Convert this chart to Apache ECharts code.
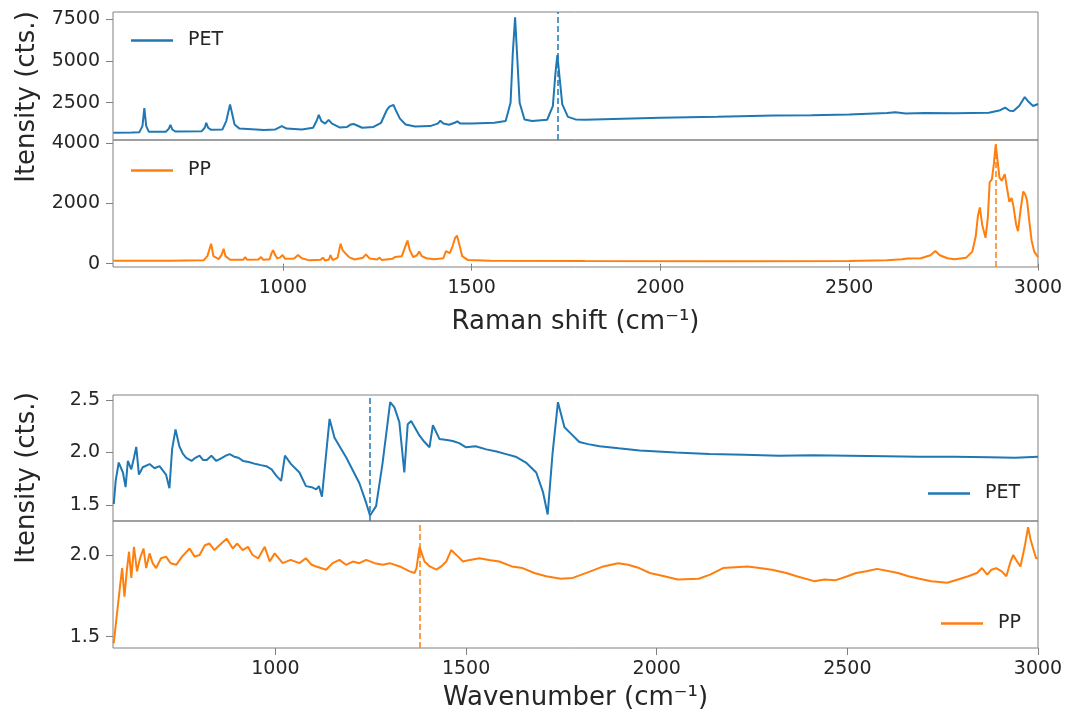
<!DOCTYPE html>
<html>
<head>
<meta charset="utf-8">
<title>Raman / FTIR spectra</title>
<script src="https://cdn.jsdelivr.net/npm/echarts@6.0.0/dist/echarts.min.js"></script>
<style>
  html, body { margin: 0; padding: 0; background: #fff; }
  #main { width: 1067px; height: 715px; }
</style>
</head>
<body>
<div id="main"></div>
<script>
// ---- Raman, PET ----
const ramanPetX = [551, 600, 620, 628, 633, 638, 645, 690, 698, 702, 707, 715, 785, 793, 797, 802, 810, 840, 850, 857, 860, 864, 872, 885,
  950, 980, 997, 1010, 1050, 1080, 1090, 1095, 1102, 1112, 1121, 1130, 1150, 1170, 1180, 1187, 1195, 1210, 1240, 1260, 1275, 1282, 1287,
  1293, 1300, 1310, 1325, 1350, 1390, 1410, 1417, 1425, 1440, 1455, 1462, 1470, 1500, 1560, 1590, 1603, 1609, 1615, 1620, 1627, 1640,
  1660, 1700, 1715, 1722, 1727, 1732, 1740, 1755, 1775, 1800, 1900, 2000, 2150, 2300, 2400, 2500, 2600, 2622, 2650, 2700, 2780, 2870,
  2900, 2913, 2925, 2935, 2950, 2965, 2975, 2987, 3000];
const ramanPetY = [700, 720, 740, 1100, 2170, 1100, 760, 760, 950, 1170, 900, 780, 800, 1000, 1300, 1000, 880, 900, 1400, 2100, 2400, 2000, 1200, 950,
  870, 900, 1100, 950, 900, 1000, 1450, 1770, 1400, 1250, 1470, 1250, 1020, 1050, 1200, 1230, 1150, 1000, 1050, 1300, 2050, 2260, 2250,
  2370, 2000, 1550, 1200, 1080, 1100, 1250, 1420, 1250, 1180, 1300, 1380, 1250, 1250, 1300, 1400, 2500, 5500, 7600, 5500, 2500, 1500,
  1400, 1480, 2300, 4300, 5350, 4200, 2400, 1650, 1500, 1480, 1540, 1600, 1660, 1730, 1750, 1800, 1880, 1926, 1860, 1880, 1870, 1900,
  2050, 2200, 2020, 2000, 2300, 2840, 2550, 2300, 2420];

// ---- Raman, PP ----
const ramanPpX = [551, 700, 790, 800, 810, 816, 830, 838, 843, 848, 860, 895, 900, 905, 935, 942, 948, 965, 970, 974, 979, 985, 992, 999,
  1006, 1030, 1040, 1050, 1070, 1100, 1106, 1112, 1122, 1126, 1132, 1145, 1150, 1153, 1158, 1165, 1168, 1175, 1190, 1212, 1220, 1230,
  1250, 1256, 1262, 1290, 1297, 1315, 1325, 1330, 1336, 1345, 1355, 1361, 1368, 1380, 1400, 1425, 1432, 1436, 1442, 1450, 1456, 1461,
  1467, 1475, 1490, 1550, 1800, 2200, 2500, 2600, 2640, 2654, 2690, 2715, 2728, 2740, 2760, 2779, 2810, 2826, 2835, 2841, 2846, 2852,
  2861, 2867, 2872, 2878, 2883, 2888, 2893, 2898, 2904, 2912, 2918, 2924, 2930, 2935, 2942, 2947, 2954, 2961, 2966, 2971, 2977, 2983,
  2990, 3000];
const ramanPpY = [100, 95, 110, 250, 660, 250, 150, 300, 494, 250, 130, 130, 218, 130, 140, 218, 130, 150, 350, 450, 300, 180, 200, 285,
  160, 170, 285, 180, 110, 130, 200, 100, 140, 285, 120, 200, 500, 659, 450, 350, 395, 220, 140, 200, 307, 170,
  140, 200, 120, 160, 220, 250, 600, 768, 450, 220, 280, 406, 250, 180, 150, 180, 420, 482, 350, 600, 850, 933,
  650, 250, 120, 100, 90, 80, 90, 110, 150, 175, 180, 280, 417, 280, 180, 150, 200, 400, 900, 1600, 1867, 1300,
  857, 1500, 2700, 2800, 3300, 3950, 3400, 2850, 2750, 2970, 2500, 2050, 2176, 1900, 1300, 1075, 1800, 2394, 2300, 2100, 1400, 769,
  400, 218];

// ---- FTIR, PET ----
const ftirPetX = [576, 581, 589, 600, 607, 613, 622, 629, 635, 642, 652, 670, 683, 696, 713, 722, 729, 738, 748, 757, 766, 780, 790, 801,
  810, 820, 832, 845, 860, 870, 880, 892, 903, 915, 930, 949, 962, 976, 990, 1002, 1015, 1025, 1041, 1063, 1080, 1095, 1107, 1114, 1122,
  1142, 1155, 1186, 1220, 1238, 1248, 1264, 1281, 1301, 1312, 1325, 1338, 1347, 1356, 1378, 1391, 1404, 1413, 1430, 1450, 1465, 1482,
  1500, 1525, 1553, 1580, 1605, 1630, 1657, 1684, 1702, 1714, 1727, 1741, 1758, 1775, 1797, 1820, 1850, 1900, 1955, 2050, 2138, 2230,
  2321, 2410, 2505, 2600, 2689, 2780, 2872, 2940, 3000];
const ftirPetY = [1.51, 1.73, 1.905, 1.81, 1.67, 1.92, 1.84, 1.95, 2.054, 1.79, 1.86, 1.89, 1.85, 1.87, 1.79, 1.66, 2.03, 2.22, 2.06, 1.99, 1.95, 1.92, 1.95, 1.97,
  1.93, 1.93, 1.97, 1.92, 1.95, 1.97, 1.985, 1.96, 1.95, 1.92, 1.91, 1.89, 1.88, 1.87, 1.84, 1.78, 1.73, 1.97, 1.89, 1.81, 1.68, 1.67, 1.65, 1.68, 1.58,
  2.32, 2.14, 1.95, 1.71, 1.52, 1.40, 1.49, 1.90, 2.48, 2.43, 2.29, 1.81, 2.27, 2.30, 2.16, 2.10, 2.05, 2.26, 2.13, 2.12, 2.11, 2.09,
  2.05, 2.06, 2.03, 2.01, 1.985, 1.96, 1.905, 1.81, 1.62, 1.41, 2.0, 2.48, 2.24, 2.18, 2.10, 2.08, 2.06, 2.04, 2.02, 2.0, 1.985, 1.98,
  1.97, 1.975, 1.97, 1.965, 1.96, 1.96, 1.955, 1.95, 1.96];

// ---- FTIR, PP ----
const ftirPpX = [576, 583, 592, 598, 604, 610, 616, 622, 629, 637, 645, 654, 661, 670, 678, 687, 700, 713, 725, 740, 755, 775, 788, 801,
  815, 827, 840, 853, 872, 888, 900, 914, 928, 940, 955, 972, 985, 998, 1019, 1040, 1063, 1080, 1095, 1107, 1133, 1150, 1168, 1185,
  1203, 1220, 1238, 1260, 1282, 1300, 1326, 1352, 1365, 1370, 1378, 1391, 1405, 1422, 1435, 1448, 1461, 1479, 1492, 1510, 1535, 1560,
  1587, 1620, 1648, 1679, 1710, 1748, 1780, 1826, 1860, 1899, 1925, 1954, 1982, 2020, 2055, 2110, 2140, 2174, 2238, 2270, 2302, 2340,
  2367, 2413, 2440, 2468, 2500, 2523, 2550, 2578, 2610, 2633, 2660, 2689, 2720, 2762, 2790, 2817, 2840, 2853, 2867, 2878, 2890, 2905,
  2917, 2928, 2935, 2945, 2954, 2965, 2974, 2980, 2986, 2995, 3000];
const ftirPpY = [1.46, 1.61, 1.80, 1.92, 1.745, 1.90, 2.02, 1.86, 2.05, 1.90, 1.98, 2.04, 1.92, 2.01, 1.95, 1.92, 1.98, 1.99, 1.95, 1.94, 1.99, 2.04, 1.99, 2.0,
  2.06, 2.07, 2.03, 2.06, 2.10, 2.04, 2.07, 2.03, 2.05, 2.0, 1.98, 2.05, 1.96, 2.01, 1.95, 1.97, 1.95, 1.98, 1.94, 1.93, 1.91, 1.95, 1.97, 1.94,
  1.96, 1.95, 1.97, 1.95, 1.94, 1.95, 1.93, 1.90, 1.89, 1.92, 2.05, 1.96, 1.93, 1.91, 1.93, 1.96, 2.03, 1.99, 1.96, 1.97, 1.98, 1.97,
  1.96, 1.93, 1.92, 1.89, 1.87, 1.855, 1.86, 1.90, 1.93, 1.95, 1.94, 1.92, 1.89, 1.87, 1.85, 1.855, 1.88, 1.92, 1.93, 1.92, 1.91, 1.89,
  1.87, 1.84, 1.85, 1.845, 1.87, 1.89, 1.90, 1.915, 1.90, 1.89, 1.87, 1.855, 1.84, 1.83, 1.85, 1.87, 1.89, 1.92, 1.88, 1.91, 1.92, 1.90,
  1.87, 1.96, 2.0, 1.96, 1.93, 2.05, 2.17, 2.10, 2.05, 1.98, 1.98];

// marker positions (dashed lines)
const ramanPetMark = 1727;
const ramanPpMark = 2888;
const ftirPetMark = 1248;
const ftirPpMark = 1378;

// tick labels
const xTicks = [1000, 1500, 2000, 2500, 3000];
const ramanPetTicks = [2500, 5000, 7500];
const ramanPpTicks = [0, 2000, 4000];
const ftirPetTicks = [1.5, 2.0, 2.5];
const ftirPpTicks = [1.5, 2.0];

const BLUE = '#1f77b4';
const ORANGE = '#ff7f0e';
const FONT = 'DejaVu Sans';
const TXT = '#262626';
const EDGE = '#808080';

function zip(xs, ys) {
  return xs.map((x, i) => [x, ys[i]]);
}

function xAxisFor(grid, min, max, withLabels, name) {
  return {
    type: 'value', gridIndex: grid, min: min, max: max,
    splitLine: { show: false },
    axisLine: { show: false },
    axisTick: { show: withLabels, customValues: xTicks, length: 7, lineStyle: { color: EDGE } },
    axisLabel: {
      show: withLabels, customValues: xTicks, margin: 12, fontFamily: FONT, fontSize: 19, color: TXT,
      formatter: v => String(v)
    },
    name: withLabels ? name : '',
    nameLocation: 'middle',
    nameGap: grid === 1 ? 42 : 37,
    nameTextStyle: { fontFamily: FONT, fontSize: 26, color: TXT }
  };
}

function yAxisFor(grid, min, max, ticks, digits) {
  return {
    type: 'value', gridIndex: grid, min: min, max: max,
    splitLine: { show: false },
    axisLine: { show: false },
    axisTick: { show: true, customValues: ticks, length: 7, lineStyle: { color: EDGE } },
    axisLabel: {
      customValues: ticks, margin: 13, fontFamily: FONT, fontSize: 19, color: TXT,
      formatter: v => v.toFixed(digits)
    }
  };
}

function lineSeries(name, color, grid, data, mark) {
  return {
    name: name, type: 'line', xAxisIndex: grid, yAxisIndex: grid,
    data: data, showSymbol: false, symbol: 'none',
    lineStyle: { color: color, width: 2 }, itemStyle: { color: color },
    markLine: {
      silent: true, symbol: 'none', label: { show: false },
      lineStyle: { color: color, type: [6, 3], width: 1.5 },
      data: [{ xAxis: mark }]
    }
  };
}

// legend item drawn as a short line, like matplotlib's
function legendAt(name, left, top) {
  return {
    data: [name], left: left, top: top, padding: 0,
    icon: 'rect', itemWidth: 42, itemHeight: 2.5, selectedMode: false,
    textStyle: { fontFamily: FONT, fontSize: 19, color: TXT, padding: [0, 0, 0, 10] }
  };
}

const gridBase = { left: 113, width: 925, show: true, borderColor: EDGE, borderWidth: 1, backgroundColor: 'transparent' };

const option = {
  animation: false,
  backgroundColor: '#fff',
  grid: [
    Object.assign({ top: 12, height: 128 }, gridBase),
    Object.assign({ top: 140, height: 127 }, gridBase),
    Object.assign({ top: 395, height: 126 }, gridBase),
    Object.assign({ top: 521, height: 127 }, gridBase)
  ],
  xAxis: [
    xAxisFor(0, 550, 3000, false, ''),
    xAxisFor(1, 550, 3000, true, 'Raman shift (cm⁻¹)'),
    xAxisFor(2, 574, 3000, false, ''),
    xAxisFor(3, 574, 3000, true, 'Wavenumber (cm⁻¹)')
  ],
  yAxis: [
    yAxisFor(0, 270, 7920, ramanPetTicks, 0),
    yAxisFor(1, -110, 4100, ramanPpTicks, 0),
    yAxisFor(2, 1.348, 2.548, ftirPetTicks, 1),
    yAxisFor(3, 1.431, 2.208, ftirPpTicks, 1)
  ],
  legend: [
    legendAt('PET', 131, 31),
    legendAt('PP', 131, 161),
    legendAt('PET', 928, 484),
    legendAt('PP', 941, 614)
  ],
  graphic: [
    { type: 'text', x: 27, y: 97, rotation: Math.PI / 2,
      style: { text: 'Itensity (cts.)', fontFamily: FONT, fontSize: 26, fill: TXT, textAlign: 'center', textVerticalAlign: 'middle' } },
    { type: 'text', x: 27, y: 478, rotation: Math.PI / 2,
      style: { text: 'Itensity (cts.)', fontFamily: FONT, fontSize: 26, fill: TXT, textAlign: 'center', textVerticalAlign: 'middle' } }
  ],
  series: [
    lineSeries('PET', BLUE, 0, zip(ramanPetX, ramanPetY), ramanPetMark),
    lineSeries('PP', ORANGE, 1, zip(ramanPpX, ramanPpY), ramanPpMark),
    lineSeries('PET', BLUE, 2, zip(ftirPetX, ftirPetY), ftirPetMark),
    lineSeries('PP', ORANGE, 3, zip(ftirPpX, ftirPpY), ftirPpMark)
  ]
};

const chart = echarts.init(document.getElementById('main'));
chart.setOption(option);
</script>
</body>
</html>
